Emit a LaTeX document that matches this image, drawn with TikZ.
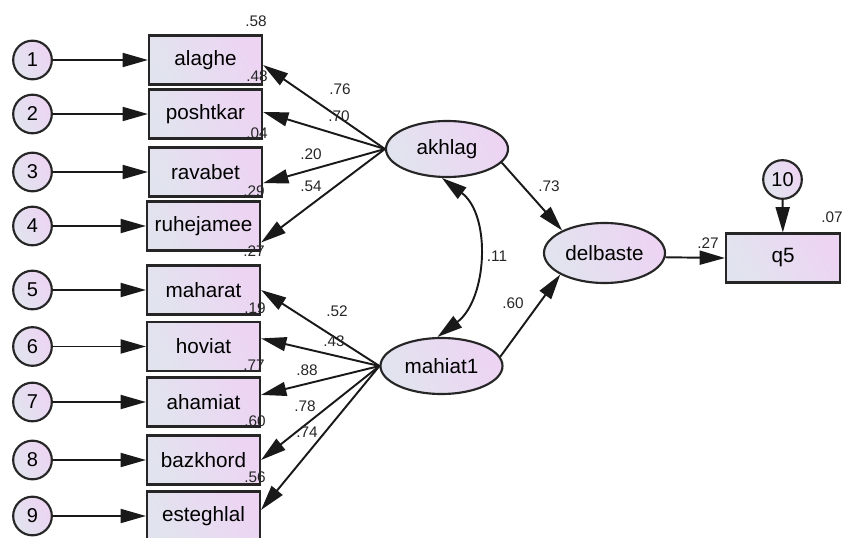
\documentclass[tikz,border=0pt]{standalone}
\usepackage{fontspec}
\setmainfont{Liberation Sans}
\usepackage{tikz}
\usetikzlibrary{arrows.meta,shapes,calc}

\definecolor{amosgray}{HTML}{E1E4EE}
\definecolor{amospink}{HTML}{EDD4F3}

\tikzset{
	shadeamos/.style={shading=axis,bottom color=amosgray,top color=amospink,shading angle=-60},
	obs/.style={draw=black!85,line width=1.6pt,shadeamos,rectangle,inner sep=0pt,
		minimum width=84.75pt,minimum height=36.75pt,font=\fontsize{15.5}{17}\selectfont},
	lat/.style={draw=black!85,line width=1.6pt,shadeamos,ellipse,inner sep=0pt,
		minimum width=91.5pt,minimum height=42pt,font=\fontsize{15.5}{17}\selectfont},
	err/.style={draw=black!85,line width=1.6pt,shadeamos,circle,inner sep=0pt,
		minimum size=29pt,font=\fontsize{15}{17}\selectfont},
	num/.style={inner sep=0pt,text=black!85,font=\fontsize{11.5}{13}\selectfont},
	arr/.style={line width=1.45pt,draw=black!90,-{Triangle[length=19pt,width=10.5pt]}}
}

\begin{document}
\begin{tikzpicture}[x=0.75pt,y=0.75pt]
	\useasboundingbox (0,0) rectangle (845,-538);

	% indicators and their error terms
	\foreach \e/\v/\x/\y in {1/alaghe/205.5/60, 2/poshtkar/205.5/114, 3/ravabet/205.5/172,
		4/ruhejamee/203.5/226, 5/maharat/203.5/290, 6/hoviat/203.5/346.5,
		7/ahamiat/203.5/402, 8/bazkhord/203.5/460, 9/esteghlal/203.5/516}{
		\node[obs] (\v) at (\x,-\y){\v};
		\node[err] (e\e) at (32.5,-\y){\e};
		\draw[arr] (e\e) -- (\v);
	}

	\node[lat] (akhlag) at (447,-149){akhlag};
	\node[lat] (mahiat1) at (441.5,-366){mahiat1};
	\node[lat,minimum width=90.75pt,minimum height=45pt] (delbaste) at (604.5,-253){delbaste};
	\node[obs,minimum width=85.5pt] (q5) at (783,-258){q5};
	\node[err] (e10) at (782.5,-179.5){10};

	% loadings
	\foreach \v/\a in {alaghe/-5, poshtkar/2, ravabet/-11, ruhejamee/-16}
		\draw[arr] (akhlag.west) -- (\v.\a);
	\foreach \v/\a in {maharat/0, hoviat/8, ahamiat/7, bazkhord/0, esteghlal/6}
		\draw[arr] (mahiat1.west) -- (\v.\a);

	\draw[arr] (akhlag.-14) -- (delbaste.152);
	\draw[arr] (mahiat1.9) -- (delbaste.206);
	\draw[arr] (delbaste.-4) -- (q5.west);
	\draw[arr] (e10) -- (q5);
	\draw[arr,{Triangle[length=19pt,width=10.5pt]}-{Triangle[length=19pt,width=10.5pt]}]
		(akhlag.-100) to[out=-37,in=37] (mahiat1.98); %covariance

	% squared multiple correlations
	\node[num] (sa) at (256,-21){.58};
	\node[num] (sb) at (257,-76){.48};
	\node[num] (sc) at (257,-133){.04};
	\node[num] (sd) at (254,-191){.29};
	\node[num] (se) at (254,-251){.27};
	\node[num] (sf) at (255,-308){.19};
	\node[num] (sg) at (254,-365){.77};
	\node[num] (sh) at (255,-421){.60};
	\node[num] (si) at (255,-477){.56};
	\node[num] (sq) at (832,-217){.07};

	% standardized weights
	\node[num] (wa) at (340,-89){.76};
	\node[num] (wb) at (339,-116){.70};
	\node[num] (wc) at (311,-154){.20};
	\node[num] (wd) at (311,-186){.54};
	\node[num] (we) at (337,-311){.52};
	\node[num] (wf) at (334,-341){.43};
	\node[num] (wg) at (307,-370){.88};
	\node[num] (wh) at (305,-406){.78};
	\node[num] (wi) at (307,-432){.74};
	\node[num] (wk) at (549,-186){.73};
	\node[num] (wm) at (513,-303){.60};
	\node[num] (wq) at (708,-243){.27};
	\node[num] (cov) at (497,-256){.11};

\end{tikzpicture}
\end{document}
